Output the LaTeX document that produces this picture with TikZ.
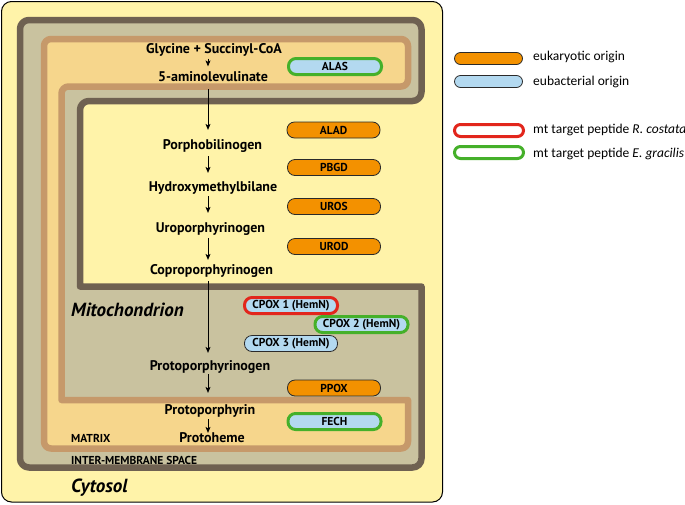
\documentclass[tikz,border=0pt]{standalone}
\usepackage{fontspec}
\usetikzlibrary{arrows.meta}
\newfontfamily\labfont{PT Sans}
\newfontfamily\legfont{Carlito}
\definecolor{cyto}{HTML}{FFF3A9}
\definecolor{khaki}{HTML}{C9C29F}
\definecolor{brmemb}{HTML}{6F6151}
\definecolor{tanmemb}{HTML}{C6996A}
\definecolor{matrixc}{HTML}{F6D68C}
\definecolor{eukc}{HTML}{F39100}
\definecolor{eubc}{HTML}{B3D9F0}
\definecolor{grnc}{HTML}{45B02A}
\definecolor{redc}{HTML}{E2261C}
\definecolor{edgec}{HTML}{2A2A2A}
\tikzset{
  lbl/.style={font=\labfont\bfseries\fontsize{14}{15}\selectfont, inner sep=0pt, text height=9.8pt, text depth=0pt},
  small/.style={font=\labfont\bfseries\fontsize{11.5}{12}\selectfont, inner sep=0pt, anchor=west, text height=8pt, text depth=0pt},
  big/.style={font=\labfont\bfseries\itshape\fontsize{19}{20}\selectfont, inner sep=0pt, anchor=west, text height=13.3pt, text depth=0pt},
  enz/.style={rounded corners=7.5pt, minimum width=93pt, minimum height=16pt, inner sep=0pt,
     font=\labfont\bfseries\fontsize{11.5}{12}\selectfont, draw=edgec, line width=0.8pt},
  euk/.style={enz, fill=eukc},
  eub/.style={enz, fill=eubc},
  egbox/.style={draw=grnc, line width=3pt},
  rcbox/.style={draw=redc, line width=3pt},
  legbox/.style={rounded corners=6pt, minimum width=68pt, minimum height=12pt, inner sep=0pt, draw=edgec, line width=0.8pt},
  legtxt/.style={font=\legfont\fontsize{13.5}{14}\selectfont, anchor=west, inner sep=0pt},
  arr/.style={line width=0.9pt, -{Stealth[length=6pt,width=5pt,inset=1.5pt]}},
}
\begin{document}
\begin{tikzpicture}[x=1pt,y=-1pt]
\path[use as bounding box] (0,0) rectangle (685,504);
% cytosol
\draw[fill=cyto, draw=black, line width=1pt, rounded corners=10pt] (1.5,1.5) rectangle (442.5,502);
% outer membrane
\draw[fill=khaki, draw=brmemb, line width=6.5pt, line join=round]
  (20,60) [rounded corners=9pt] -- (20,20) -- (421.5,20) -- (421.5,101) -- (80,101) [sharp corners] -- (80,286.5) -- (421.5,286.5) [rounded corners=9pt] -- (421.5,467.5) -- (20,467.5) -- cycle;
% inner membrane
\draw[fill=matrixc, draw=tanmemb, line width=6.5pt, line join=round]
  (44,60) [rounded corners=7pt] -- (44,39) -- (408,39) -- (408,86.5) -- (61.5,86.5) [sharp corners] -- (61.5,400) -- (408,400) [rounded corners=7pt] -- (408,448.5) -- (44,448.5) -- cycle;
% labels
\coordinate (ax) at (208,0);
\node[lbl] (gly) at (214,49) {Glycine + Succinyl-CoA};
\node[lbl] (ala) at (213,77) {5-aminolevulinate};
\node[lbl] (pbg) at (212.5,145) {Porphobilinogen};
\node[lbl] (hmb) at (213,187) {Hydroxymethylbilane};
\node[lbl] (uro) at (210.5,228) {Uroporphyrinogen};
\node[lbl] (copro) at (211.5,270) {Coproporphyrinogen};
\node[lbl] (protogen) at (210,366) {Protoporphyrinogen};
\node[lbl] (proto) at (210,410) {Protoporphyrin};
\node[lbl] (heme) at (212,438) {Protoheme};
% arrows
\draw[arr, shorten <=4.5pt, shorten >=5.5pt] (gly.south -| ax) -- (ala.north -| ax);
\draw[arr, shorten <=7pt, shorten >=10pt] (ala.south -| ax) -- (pbg.north -| ax);
\draw[arr, shorten <=6pt, shorten >=9pt] (pbg.south -| ax) -- (hmb.north -| ax);
\draw[arr, shorten <=4pt, shorten >=10pt] (hmb.south -| ax) -- (uro.north -| ax);
\draw[arr, shorten <=5pt, shorten >=5pt] (uro.south -| ax) -- (copro.north -| ax);
\draw[arr, shorten <=6pt, shorten >=8pt] (copro.south -| ax) -- (protogen.north -| ax);
\draw[arr, shorten <=3pt, shorten >=12pt] (protogen.south -| ax) -- (proto.north -| ax);
\draw[arr, shorten <=4pt, shorten >=0pt] (proto.south -| ax) -- (heme.north -| ax);
% enzymes
\node[eub, egbox] (alas) at (335,66.5) {ALAS};
\node[euk] (alad) at (333.5,130) {ALAD};
\node[euk] (pbgd) at (334,167.5) {PBGD};
\node[euk] (uros) at (334,206.5) {UROS};
\node[euk] (urod) at (334,246.5) {UROD};
\node[eub, rcbox] (cpox1) at (291,305.5) {CPOX 1 (HemN)};
\node[eub, egbox] (cpox2) at (361.5,324.5) {CPOX 2 (HemN)};
\node[eub] (cpox3) at (291,343.5) {CPOX 3 (HemN)};
\node[euk] (ppox) at (334,388) {PPOX};
\node[eub, egbox] (fech) at (334.5,421.5) {FECH};
% compartment labels
\node[big] (mito) at (71,310) {Mitochondrion};
\node[big] (cyt) at (71,486) {Cytosol};
\node[small] (matrix) at (71,438) {MATRIX};
\node[small] (ims) at (71,460) {INTER-MEMBRANE SPACE};
% legend
\node[legbox, fill=eukc] (lg1) at (488.5,58.5) {};
\node[legbox, fill=eubc] (lg2) at (488.5,81.5) {};
\node[legbox, fill=white, rcbox, minimum width=69pt] (lg3) at (489,130.5) {};
\node[legbox, fill=white, egbox, minimum width=69pt] (lg4) at (489,152.5) {};
\node[legtxt] (t1) at (533,57) {eukaryotic origin};
\node[legtxt] (t2) at (533,82) {eubacterial origin};
\node[legtxt] (t3) at (533,129.5) {mt target peptide \textit{R. costata}};
\node[legtxt] (t4) at (533,154) {mt target peptide \textit{E. gracilis}};
\end{tikzpicture}
\end{document}
